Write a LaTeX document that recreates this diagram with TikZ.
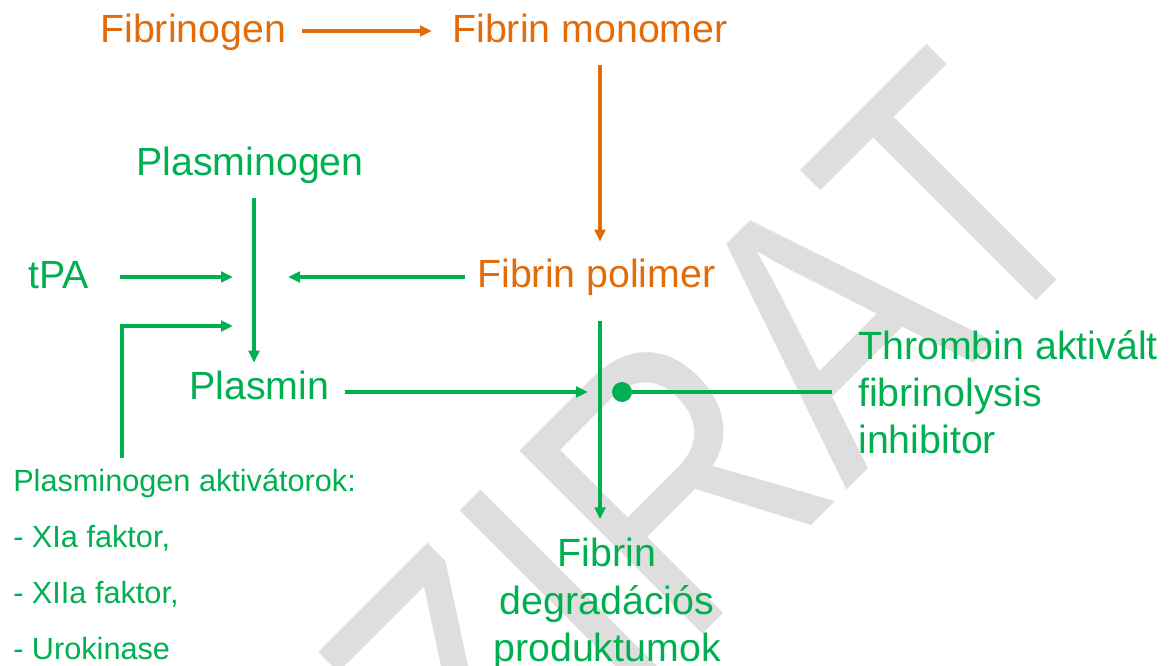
\documentclass[tikz,border=0pt]{standalone}
\usepackage{fontspec}
\setmainfont{Liberation Sans}
\usetikzlibrary{arrows.meta}
\definecolor{fibor}{RGB}{227,108,10}
\definecolor{fibgr}{RGB}{0,176,80}
\definecolor{wmgray}{RGB}{222,222,222}
\tikzset{
	lbl/.style={inner sep=0pt, font=\fontsize{29.5}{35.5}\selectfont, text height=22pt, text depth=4pt},
	multilbl/.style={inner sep=0pt, font=\fontsize{29.5}{35.5}\selectfont},
	arr/.style={line width=2.5pt, -{Triangle[length=9pt,width=8pt]}}
}

\begin{document}
\begin{tikzpicture}[x=0.75pt, y=-0.75pt]
				\useasboundingbox (0,0) rectangle (1169,666);
				\clip (0,0) rectangle (1169,666);
				% Watermark
				\node[anchor=base west, rotate=45, inner sep=0pt, text=wmgray, font=\fontsize{237}{237}\selectfont] (wm) at (486,851) {\scalebox{1}[1.19]{ZIRAT}};
				
				% Orange labels
				\node[lbl, text=fibor, anchor=base west] (fgen) at (100,43) {Fibrinogen};
				\node[lbl, text=fibor, anchor=base west] (fmono) at (452,43) {Fibrin monomer};
				\node[lbl, text=fibor, anchor=base west] (fpol) at (477,287) {Fibrin polimer};
				
				% Green labels
				\node[lbl, text=fibgr, anchor=base west] (plg) at (136,176) {Plasminogen};
				\node[lbl, text=fibgr, anchor=base west] (tpa) at (28,288) {tPA};
				\node[lbl, text=fibgr, anchor=base west] (plm) at (189,399) {Plasmin};
				\node[multilbl, text=fibgr, anchor=north west, align=left] (tafi) at (858,330) {Thrombin aktivált\\fibrinolysis\\inhibitor};
				\node[multilbl, text=fibgr, anchor=north, align=center] (fdp) at (607,538) {Fibrin\\degradációs\\produktumok};
				\node[inner sep=0pt, text=fibgr, anchor=north west, align=left, font=\fontsize{23}{42}\selectfont] (act) at (13,469) {Plasminogen aktivátorok:\\- XIa faktor,\\- XIIa faktor,\\- Urokinase};
				
				% Junctions
				\coordinate (hub) at (254,277);
				\coordinate (hubB) at (254,326);
				\coordinate (bend) at (122,326);
				\coordinate (jx) at (600,392);
				\node[circle, fill=fibgr, inner sep=0pt, minimum size=15pt] (blk) at (622,392) {};
				
				% Fibrin formation
				\draw[arr, fibor, shorten <=12pt, shorten >=15pt] (fgen.east) -- (fmono.west);
				\draw[arr, fibor, shorten <=12.5pt, shorten >=11.8pt] (fmono.south -| jx) -- (fpol.north -| jx);
				
				% Plasmin formation
				\draw[arr, fibgr, shorten <=12.5pt, shorten >=5pt] (plg.south -| hub) -- (plm.north -| hub);
				\draw[arr, fibgr, shorten <=23.5pt, shorten >=15.75pt] (tpa.east |- hub) -- (hub);
				\draw[arr, fibgr, shorten <=9pt, shorten >=25.5pt] (fpol.west |- hub) -- (hub);
				\draw[arr, fibgr, shorten <=8pt, shorten >=15.75pt] (act.north -| bend) -- (bend) -- (hubB);
				
				% Fibrinolysis
				\draw[arr, fibgr, shorten <=12pt, shorten >=9pt] (plm.east |- jx) -- (jx);
				\draw[arr, fibgr, shorten <=21.3pt, shorten >=14pt] (fpol.south -| jx) -- (fdp.north -| jx);
				\draw[line width=2.5pt, fibgr, shorten <=19.5pt] (tafi.west |- blk) -- (blk);
\end{tikzpicture}
\end{document}
